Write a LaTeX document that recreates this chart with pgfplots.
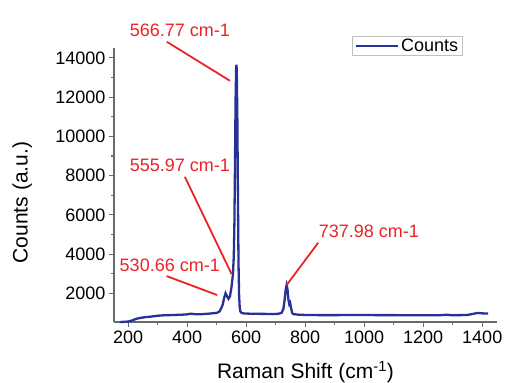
\documentclass[border=0pt]{standalone}
\usepackage{fontspec}
\setmainfont{Liberation Sans}
\usepackage{pgfplots}
\pgfplotsset{compat=1.18}
\definecolor{lineblue}{RGB}{38,50,150}
\definecolor{annred}{RGB}{235,35,40}
\definecolor{axgray}{RGB}{105,105,115}
\begin{document}
\begin{tikzpicture}[font=\fontsize{18bp}{21bp}\selectfont]
\begin{axis}[name=ax, scale only axis, width=383bp, height=274bp,
 xmin=152, xmax=1450, ymin=540, ymax=14500,
 axis lines*=left, axis line style={axgray, line width=1.5bp},
 tick align=outside, tick style={axgray, line width=1.1bp},
 major tick length=5bp, minor tick length=3bp,
 xtick={200,400,...,1400}, ytick={2000,4000,...,14000},
 minor x tick num=1, minor y tick num=1,
 scaled y ticks=false, scaled x ticks=false,
 /pgf/number format/assume math mode=true,
 /pgf/number format/1000 sep={},
 tick label style={font=\fontsize{18bp}{21bp}\selectfont, black},
 xlabel={Raman Shift (cm\textsuperscript{-1})},
 ylabel={Counts (a.u.)},
 label style={font=\fontsize{21bp}{24bp}\selectfont},
 xlabel style={at={(axis description cs:0.5,-0.183)}, anchor=center},
 ylabel style={at={(axis description cs:-0.240,0.436)}, anchor=center, rotate=0},
 legend style={at={(axis description cs:0.9104,1.0438)}, anchor=north east,
   draw=black!25, line width=1bp, inner xsep=2bp, inner ysep=0.5bp, font=\fontsize{18bp}{21bp}\selectfont},
 legend image code/.code={\draw[#1] (0bp,0bp) -- (42bp,0bp);},
 clip=false,
]
\addplot[lineblue, line width=2.3bp] coordinates {
(172,540) (180,545) (190,550) (200,565) (210,600) (220,660) (230,710) (240,745) (250,770)
(260,790) (280,820) (300,860) (320,880) (340,890) (360,900) (380,910) (400,930)
(410,960) (420,950) (430,930) (450,940) (470,960) (490,990) (500,1000) (510,1080)
(520,1400) (525,1750) (530,2000) (535,1850) (540,1720) (545,1850) (550,2300)
(555,2950) (558,3900) (560,5500) (562,8500) (564,11800) (566,13500) (567,13650)
(568,13400) (570,11000) (572,7000) (574,3500) (576,1900) (578,1300) (580,1080)
(585,1000) (590,980) (600,970) (620,960) (650,955) (680,950) (700,950) (710,960)
(720,1010) (726,1200) (730,1650) (734,2200) (737,2420) (740,2200) (743,1700)
(746,1450) (749,1520) (752,1250) (756,1000) (760,940) (780,910) (800,900)
(850,890) (900,890) (950,895) (1000,895) (1050,890) (1100,890) (1150,885)
(1200,885) (1250,880) (1280,910) (1300,880) (1350,900) (1370,960) (1385,1000)
(1400,980) (1420,970)
};
\addlegendentry{Counts}
\draw[annred, line width=1.8bp] (axis cs:331,14817) -- (axis cs:545,12830);
\node[annred] at (axis cs:375,15413) {566.77 cm-1};
\draw[annred, line width=1.8bp] (axis cs:392,7940) -- (axis cs:550.5,2983);
\node[annred] at (axis cs:375,8536) {555.97 cm-1};
\draw[annred, line width=1.8bp] (axis cs:330,2881) -- (axis cs:501.7,1913);
\node[annred] at (axis cs:341,3442) {530.66 cm-1};
\draw[annred, line width=1.8bp] (axis cs:844,4578) -- (axis cs:737,2423);
\node[annred] at (axis cs:1016,5138) {737.98 cm-1};
\end{axis}
\pgfresetboundingbox
\path[use as bounding box] ([shift={(-114bp,-61bp)}]ax.south west) rectangle ([shift={(392bp,322bp)}]ax.south west);
\end{tikzpicture}
\end{document}
